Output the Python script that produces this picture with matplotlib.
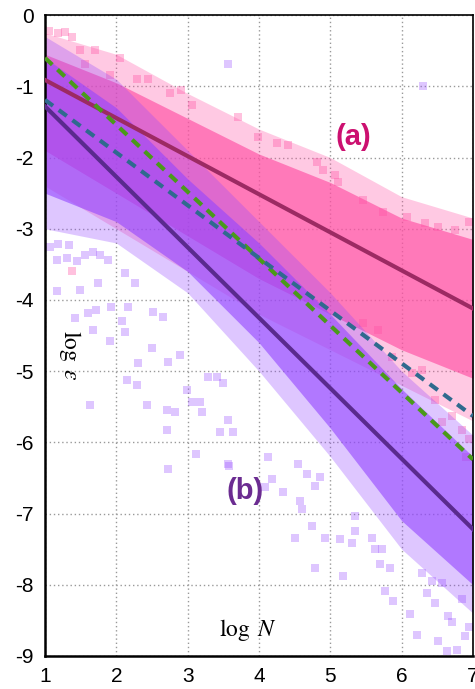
import matplotlib.pyplot as plt

plt.rcParams['font.family'] = ['Liberation Sans', 'DejaVu Sans']
plt.rcParams['mathtext.fontset'] = 'stix'
plt.rcParams['axes.unicode_minus'] = False

# envelopes of the two point clouds, read at log N = 1..7
band_x = [1, 2, 3, 4, 5, 6, 7]
a_outer_top = [-0.25, -0.55, -1.1, -1.6, -2.0, -2.55, -2.85]
a_outer_bot = [-2.4, -3.0, -3.6, -4.2, -4.7, -5.2, -5.7]
a_core_top = [-0.55, -0.95, -1.45, -1.95, -2.35, -2.85, -3.15]
a_core_bot = [-1.9, -2.5, -3.1, -3.7, -4.2, -4.7, -5.1]

b_outer_top = [-0.3, -0.9, -1.9, -2.9, -3.9, -5.0, -5.9]
b_outer_bot = [-3.0, -3.2, -3.9, -5.0, -6.2, -7.5, -8.4]
b_core_top = [-0.6, -1.3, -2.3, -3.2, -4.2, -5.25, -6.2]
b_core_bot = [-2.5, -2.9, -3.6, -4.6, -5.8, -7.1, -8.0]

# scattered points outside the dense parts
a_pts_x = [1.05, 1.18, 1.28, 1.38, 1.49, 1.7, 1.56, 1.91, 2.05, 2.29, 2.45, 2.75, 3.06, 2.9,
           3.71, 3.99, 4.25, 4.41, 4.81, 4.9, 5.07, 5.11, 5.46, 5.74, 6.08, 6.33, 6.51, 6.75, 6.95,
           6.57, 6.7, 6.85, 6.47, 6.29, 6.15, 5.87, 5.67, 5.46, 6.95, 6.9, 1.38]
a_pts_y = [-0.22, -0.25, -0.24, -0.31, -0.49, -0.49, -0.68, -0.84, -0.6, -0.89, -0.89, -1.1, -1.26, -1.05,
           -1.43, -1.71, -1.8, -1.82, -2.06, -2.17, -2.24, -2.34, -2.59, -2.76, -2.83, -2.92, -2.97, -3.02, -2.9,
           -5.72, -5.63, -5.82, -5.4, -4.98, -5.03, -4.8, -4.42, -4.32, -5.96, -6.2, -3.6]

b_pts_x = [1.07, 1.18, 1.33, 1.17, 1.31, 1.45, 1.56, 1.67, 1.77, 1.88, 1.17, 1.49, 1.75, 1.42,
           1.61, 1.72, 1.68, 1.93, 1.91, 2.08, 2.12, 2.17, 2.26, 2.12, 2.31, 2.15, 2.29, 2.5, 2.43,
           2.71, 2.71, 2.82, 2.73, 2.89, 2.99, 3.06, 3.17, 3.2, 3.29, 3.41, 3.5, 3.57, 3.46, 3.64,
           3.57, 1.63, 2.51, 2.65, 2.73, 3.12, 3.58, 4.51, 4.79, 5.18, 4.93, 5.14, 5.31, 5.35, 5.59,
           5.73, 5.62, 5.7, 5.84, 5.77, 5.88, 6.12, 6.22, 6.36, 6.47, 6.51, 6.65, 6.71, 6.64, 6.78,
           6.89, 6.29, 6.43, 6.57, 4.18, 4.34, 4.08, 4.58, 4.6, 4.79, 4.86, 4.67, 4.55, 4.13, 4.75,
           5.35, 6.3, 3.57, 6.95, 6.85]
b_pts_y = [-3.25, -3.22, -3.23, -3.44, -3.41, -3.46, -3.37, -3.32, -3.37, -3.44, -3.88, -3.86, -3.76, -4.25,
           -4.18, -4.14, -4.42, -4.1, -4.58, -4.3, -4.45, -4.1, -3.76, -3.62, -4.88, -5.12, -5.19, -4.67, -5.47,
           -5.54, -5.82, -5.58, -4.87, -4.77, -5.26, -5.44, -5.44, -5.58, -5.08, -5.08, -5.16, -5.68, -5.86, -5.86,
           -6.31, -5.47, -4.17, -4.24, -6.37, -6.17, -6.33, -7.34, -7.76, -7.88, -7.34, -7.36, -7.41, -7.25, -7.35,
           -7.5, -7.5, -7.71, -7.76, -8.09, -8.23, -8.41, -8.7, -8.11, -8.25, -8.79, -8.44, -8.53, -8.93, -8.91,
           -8.72, -7.83, -7.95, -7.97, -6.52, -6.7, -6.63, -6.83, -6.94, -6.62, -6.49, -6.45, -6.31, -6.21, -7.18,
           -7.04, -1.0, -0.68, -8.6, -8.2]

# fitted lines (end points)
fit_x = [1, 7]
fit_a = [-0.91, -4.12]
fit_b = [-1.28, -7.22]
green_y = [-0.6, -6.24]
blue_y = [-1.19, -5.63]

pink = '#ff4fa3'
purple = '#9345ff'

fig = plt.figure(figsize=(4.75, 6.89), dpi=100)
ax = fig.add_axes([0.0947, 0.048, 0.901, 0.930])

ax.fill_between(band_x, a_outer_bot, a_outer_top, color=pink, alpha=0.3, lw=0, zorder=1)
ax.fill_between(band_x, a_core_bot, a_core_top, color=pink, alpha=0.65, lw=0, zorder=1)
ax.scatter(a_pts_x, a_pts_y, s=26, marker='s', color=pink, alpha=0.35, lw=0, zorder=1)

ax.fill_between(band_x, b_outer_bot, b_outer_top, color=purple, alpha=0.3, lw=0, zorder=2)
ax.fill_between(band_x, b_core_bot, b_core_top, color=purple, alpha=0.6, lw=0, zorder=2)
ax.scatter(b_pts_x, b_pts_y, s=26, marker='s', color=purple, alpha=0.3, lw=0, zorder=2)

ax.plot(fit_x, fit_a, color='#9c2a63', lw=3, zorder=4)
ax.plot(fit_x, fit_b, color='#5a2a8e', lw=3, zorder=4)
ax.plot(fit_x, green_y, color='#4a9a1a', lw=3, dashes=(2.4, 1.7), zorder=5)
ax.plot(fit_x, blue_y, color='#2f6a8e', lw=3, dashes=(2.4, 1.7), zorder=5)

ax.text(5.32, -1.71, '(a)', color='#cc1070', fontsize=21, fontweight='bold',
        ha='center', va='center', zorder=6)
ax.text(3.81, -6.69, '(b)', color='#6b2c91', fontsize=21, fontweight='bold',
        ha='center', va='center', zorder=6)
ax.text(1.35, -4.78, r'$\log\ \epsilon$', fontsize=17, rotation=270,
        ha='center', va='center', zorder=6)
ax.text(3.85, -8.63, r'$\log\ N$', fontsize=17, ha='center', va='center', zorder=6)

ax.set_xlim(1, 7)
ax.set_ylim(-9, 0)
ax.set_xticks(range(1, 8))
ax.set_yticks(range(-9, 1))
ax.tick_params(length=0, labelsize=15, pad=8)
ax.grid(True, color='#999999', linestyle=(0, (1, 2)), lw=1)
ax.set_axisbelow(True)
for side in ['left', 'bottom']:
    ax.spines[side].set_linewidth(1.8)
for side in ['top', 'right']:
    ax.spines[side].set_linewidth(1.2)

fig.savefig('out.png', dpi=100)
